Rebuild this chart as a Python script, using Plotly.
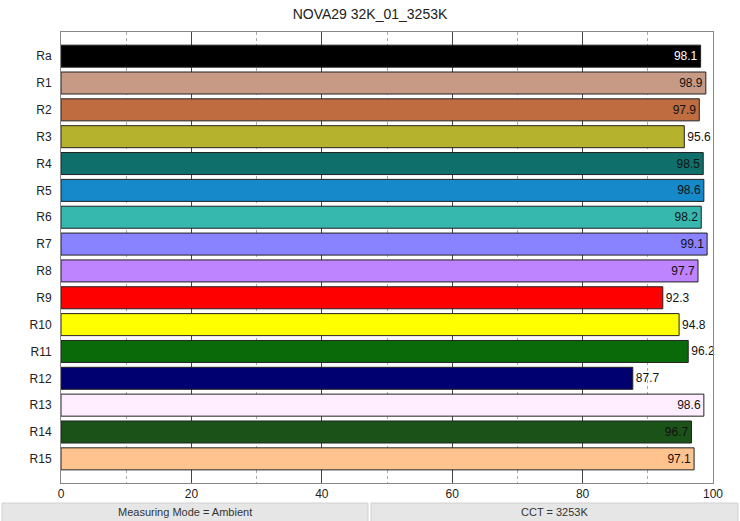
import plotly.graph_objects as go

categories = ["Ra", "R1", "R2", "R3", "R4", "R5", "R6", "R7", "R8", "R9",
              "R10", "R11", "R12", "R13", "R14", "R15"]
values = [98.1, 98.9, 97.9, 95.6, 98.5, 98.6, 98.2, 99.1, 97.7, 92.3,
          94.8, 96.2, 87.7, 98.6, 96.7, 97.1]
colors = ["#000000", "#C79A86", "#BF6D40", "#B5B22E", "#0F6F6B", "#1589C9",
          "#36B8AE", "#8A83FF", "#BE83FF", "#FF0000", "#FFFF00", "#0A6A0A",
          "#000070", "#FFEEFF", "#1B5218", "#FFC38F"]
title = "NOVA29 32K_01_3253K"
footer_left = "Measuring Mode = Ambient"
footer_right = "CCT = 3253K"

positions = ["inside" if v >= 96.5 else "outside" for v in values]
text_colors = ["#FFFFFF" if c == "#000000" else "#111111" for c in colors]

FONT = "Liberation Sans, Arial, sans-serif"

fig = go.Figure(go.Bar(
    y=categories, x=values, orientation="h",
    marker=dict(color=colors, line=dict(color="#222222", width=1)),
    width=0.82,
    text=[f"{v:.1f}" for v in values],
    textposition=positions,
    insidetextanchor="end",
    insidetextfont=dict(color=text_colors, size=12, family=FONT),
    outsidetextfont=dict(color="#111111", size=12, family=FONT),
    textangle=0,
    cliponaxis=False,
    hoverinfo="skip",
))

fig.update_layout(
    width=740, height=521,
    margin=dict(l=61, r=27, t=32, b=38),
    paper_bgcolor="white", plot_bgcolor="white",
    font=dict(family=FONT, size=12, color="#222222"),
    title=dict(text=title, x=0.5, xanchor="center", y=0.973, yanchor="middle",
               font=dict(size=14, color="#222222", family=FONT)),
    showlegend=False,
)
fig.update_xaxes(
    range=[0, 100], dtick=20, tick0=0,
    showgrid=True, gridcolor="#444444", gridwidth=1,
    minor=dict(dtick=10, showgrid=True, gridcolor="#aaaaaa", griddash="dot", gridwidth=1),
    showline=True, linecolor="#888888", linewidth=1, mirror=True,
    ticks="", zeroline=False,
    tickfont=dict(size=12, color="#222222"),
)
fig.update_yaxes(
    range=[15.9, -0.9], showgrid=False,
    showline=True, linecolor="#888888", linewidth=1, mirror=True,
    ticks="", ticklabelstandoff=6,
    tickfont=dict(size=12, color="#222222"),
)

# footer boxes (in pixel terms converted to paper coords)
PW, PH, L, B_TOP = 652, 451, 61, 483
def px_x(px):
    return (px - L) / PW
def px_y(py):
    return (B_TOP - py) / PH

boxes = [(2, 368, footer_left), (371, 738, footer_right)]
for x0, x1, txt in boxes:
    fig.add_shape(type="rect", xref="paper", yref="paper",
                  x0=px_x(x0), x1=px_x(x1), y0=px_y(503), y1=px_y(522),
                  fillcolor="#E6E6E6", line=dict(color="#D0D0D0", width=1), layer="above")
    fig.add_annotation(xref="paper", yref="paper",
                       x=px_x((x0 + x1) / 2), y=px_y(512),
                       text=txt, showarrow=False, xanchor="center", yanchor="middle",
                       font=dict(size=11, color="#333333", family=FONT))

fig.write_html("out.html", config={"displayModeBar": False},
               post_script="document.body.style.margin='0';document.body.style.overflow='hidden';")
